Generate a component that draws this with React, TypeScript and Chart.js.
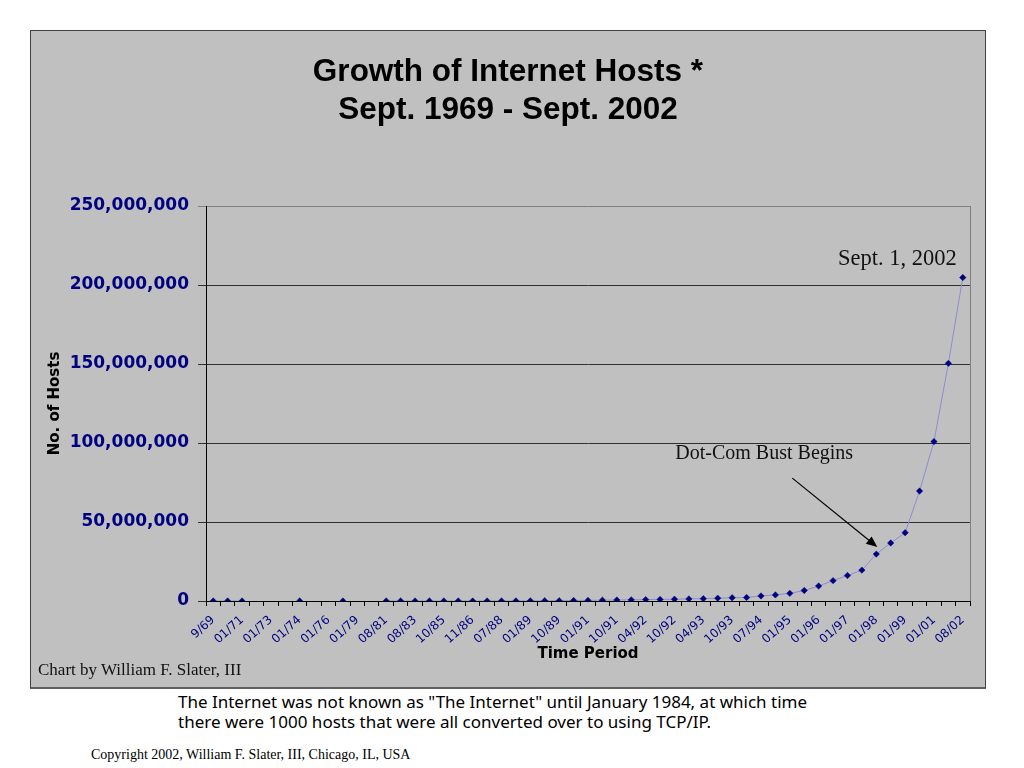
import React, { useEffect, useRef } from 'react';
import { Chart, registerables } from 'chart.js';

Chart.register(...registerables);

// tick labels shown under every other category
const tickLabels = [
  '9/69', '01/71', '01/73', '01/74', '01/76', '01/79', '08/81', '08/83', '10/85',
  '11/86', '07/88', '01/89', '10/89', '01/91', '10/91', '04/92', '10/92', '04/93',
  '10/93', '07/94', '01/95', '01/96', '01/97', '01/98', '01/99', '01/01', '08/02',
];

// one survey per category, unlabeled ones sit between the shown ticks
const categories = tickLabels.flatMap((l, i) => (i < tickLabels.length - 1 ? [l, ''] : [l]));

const hosts: (number | null)[] = [
  4, 13, 23, null, null, null, 62, null, null, 111,
  null, null, 213, 235, 562, 1024, 1961, 2308, 5089, 28174,
  33000, 56000, 80000, 130000, 159000, 313000, 376000, 535000, 617000, 727000,
  890000, 992000, 1136000, 1313000, 1486000, 1776000, 2056000, 2217000, 3212000, 3864000,
  4852000, 6642000, 9472000, 12881000, 16146000, 19540000, 29670000, 36739000, 43230000, 69600000,
  100900000, 150400000, 204700000,
];

const yMax = 250000000;
const yStep = 50000000;

const titleLines = ['Growth of Internet Hosts *', 'Sept. 1969 - Sept. 2002'];
const lastNote = 'Sept. 1, 2002';
const bustNote = 'Dot-Com Bust Begins';
const bustIndex = 46;

const notesPlugin = {
  id: 'notes',
  beforeDatasetsDraw(chart: any) {
    const { ctx, chartArea } = chart;
    // plot area right border
    ctx.save();
    ctx.strokeStyle = '#808080';
    ctx.lineWidth = 1;
    ctx.beginPath();
    ctx.moveTo(chartArea.right + 0.5, chartArea.top);
    ctx.lineTo(chartArea.right + 0.5, chartArea.bottom);
    ctx.stroke();
    ctx.restore();
  },
  afterDatasetsDraw(chart: any) {
    const { ctx } = chart;
    const x = chart.scales.x;
    const y = chart.scales.y;
    const last = hosts.length - 1;
    const lx = x.getPixelForValue(last);
    const ly = y.getPixelForValue(hosts[last]);

    ctx.save();
    ctx.fillStyle = '#111';
    ctx.textBaseline = 'middle';
    ctx.font = '22.5px "Liberation Serif"';
    ctx.textAlign = 'right';
    ctx.fillText(lastNote, lx - 6, ly - 18);

    const tx = x.getPixelForValue(bustIndex) + 1;
    const ty = y.getPixelForValue(hosts[bustIndex]) - 7;
    ctx.font = '20px "Liberation Serif"';
    ctx.textAlign = 'left';
    ctx.fillText(bustNote, tx - 202, ty - 93);

    // arrow
    const sx = tx - 85;
    const sy = ty - 69;
    const ang = Math.atan2(ty - sy, tx - sx);
    const head = 12;
    ctx.strokeStyle = '#000';
    ctx.lineWidth = 1.2;
    ctx.beginPath();
    ctx.moveTo(sx, sy);
    ctx.lineTo(tx - Math.cos(ang) * head * 0.8, ty - Math.sin(ang) * head * 0.8);
    ctx.stroke();
    ctx.fillStyle = '#000';
    ctx.beginPath();
    ctx.moveTo(tx, ty);
    ctx.lineTo(tx - head * Math.cos(ang - 0.4), ty - head * Math.sin(ang - 0.4));
    ctx.lineTo(tx - head * Math.cos(ang + 0.4), ty - head * Math.sin(ang + 0.4));
    ctx.closePath();
    ctx.fill();
    ctx.restore();
  },
};

const HostsChart = () => {
  const chartRef = useRef<HTMLCanvasElement | null>(null);
  const myChartRef = useRef<Chart | null>(null);

  useEffect(() => {
    if (myChartRef.current) {
      myChartRef.current.destroy();
    }

    const data = {
      labels: categories,
      datasets: [
        {
          label: 'No. of Hosts',
          data: hosts,
          borderColor: 'rgb(140, 140, 210)',
          borderWidth: 1,
          tension: 0,
          spanGaps: false,
          pointStyle: 'rectRot' as const,
          pointRadius: 3.2,
          pointBackgroundColor: '#000080',
          pointBorderColor: '#000080',
          pointBorderWidth: 0.5,
        },
      ],
    };

    const options: any = {
      responsive: true,
      maintainAspectRatio: false,
      animation: false,
      layout: { padding: { left: 15, right: 15, top: 0, bottom: 0 } },
      plugins: {
        legend: { display: false },
        tooltip: { enabled: false },
        title: {
          display: true,
          text: titleLines,
          color: '#000',
          font: { family: '"Liberation Sans", Arial', weight: 'bold', size: 31.5, lineHeight: 38 / 31.5 },
          padding: { top: 22, bottom: 77 },
        },
      },
      scales: {
        x: {
          type: 'category',
          offset: true,
          afterFit: (scale: any) => {
            scale.height = 86;
          },
          grid: {
            offset: true,
            drawOnChartArea: false,
            drawTicks: true,
            tickLength: 5,
            color: '#000',
          },
          border: { color: '#000', width: 1 },
          ticks: {
            autoSkip: false,
            maxRotation: 42,
            minRotation: 42,
            padding: 7,
            color: '#000080',
            font: { family: '"DejaVu Sans"', size: 12 },
          },
          title: {
            display: true,
            text: 'Time Period',
            color: '#000',
            font: { family: '"DejaVu Sans"', weight: 'bold', size: 15 },
            padding: { top: 0, bottom: 24 },
          },
        },
        y: {
          min: 0,
          max: yMax,
          afterFit: (scale: any) => {
            scale.width = 160;
          },
          grid: {
            color: (c: any) => (c.tick && c.tick.value === yMax ? '#808080' : '#303030'),
            tickLength: 8,
            lineWidth: 1,
          },
          border: { color: '#000', width: 1 },
          ticks: {
            stepSize: yStep,
            padding: 9,
            color: '#000080',
            font: { family: '"DejaVu Sans"', weight: 'bold', size: 17 },
            callback: (v: any) => Number(v).toLocaleString('en-US'),
          },
          title: {
            display: true,
            text: 'No. of Hosts',
            color: '#000',
            font: { family: '"DejaVu Sans"', weight: 'bold', size: 15 },
            padding: { top: 0, bottom: 0 },
          },
        },
      },
    };

    if (chartRef.current) {
      myChartRef.current = new Chart(chartRef.current, {
        type: 'line',
        data: data,
        options: options,
        plugins: [notesPlugin],
      });
    }

    return () => {
      if (myChartRef.current) {
        myChartRef.current.destroy();
      }
    };
  }, []);

  return (
    <div style={{ position: 'absolute', left: 0, top: 0, width: 954, height: 656 }}>
      <canvas ref={chartRef} />
    </div>
  );
};

export default function App() {
  return (
    <div style={{ position: 'absolute', left: 0, top: 0, width: 1024, height: 768, background: '#fff', overflow: 'hidden' }}>
      <div
        style={{
          position: 'absolute',
          left: 30,
          top: 30,
          width: 954,
          height: 656,
          background: '#c0c0c0',
          border: '1px solid #404040',
          borderBottom: '2px solid #606060',
        }}
      >
        <HostsChart />
        <div
          style={{
            position: 'absolute',
            left: 7,
            top: 629,
            font: '17px "Liberation Serif"',
            lineHeight: '20px',
            color: '#111',
            whiteSpace: 'nowrap',
          }}
        >
          Chart by William F. Slater, III
        </div>
      </div>
      <div
        style={{
          position: 'absolute',
          left: 178,
          top: 692,
          font: '17px "Noto Sans"',
          lineHeight: '20px',
          color: '#000',
          whiteSpace: 'nowrap',
        }}
      >
        The Internet was not known as "The Internet" until January 1984, at which time
        <br />
        there were 1000 hosts that were all converted over to using TCP/IP.
      </div>
      <div
        style={{
          position: 'absolute',
          left: 91,
          top: 746,
          font: '14px "Liberation Serif"',
          lineHeight: '17px',
          color: '#000',
          whiteSpace: 'nowrap',
        }}
      >
        Copyright 2002, William F. Slater, III, Chicago, IL, USA
      </div>
    </div>
  );
}
